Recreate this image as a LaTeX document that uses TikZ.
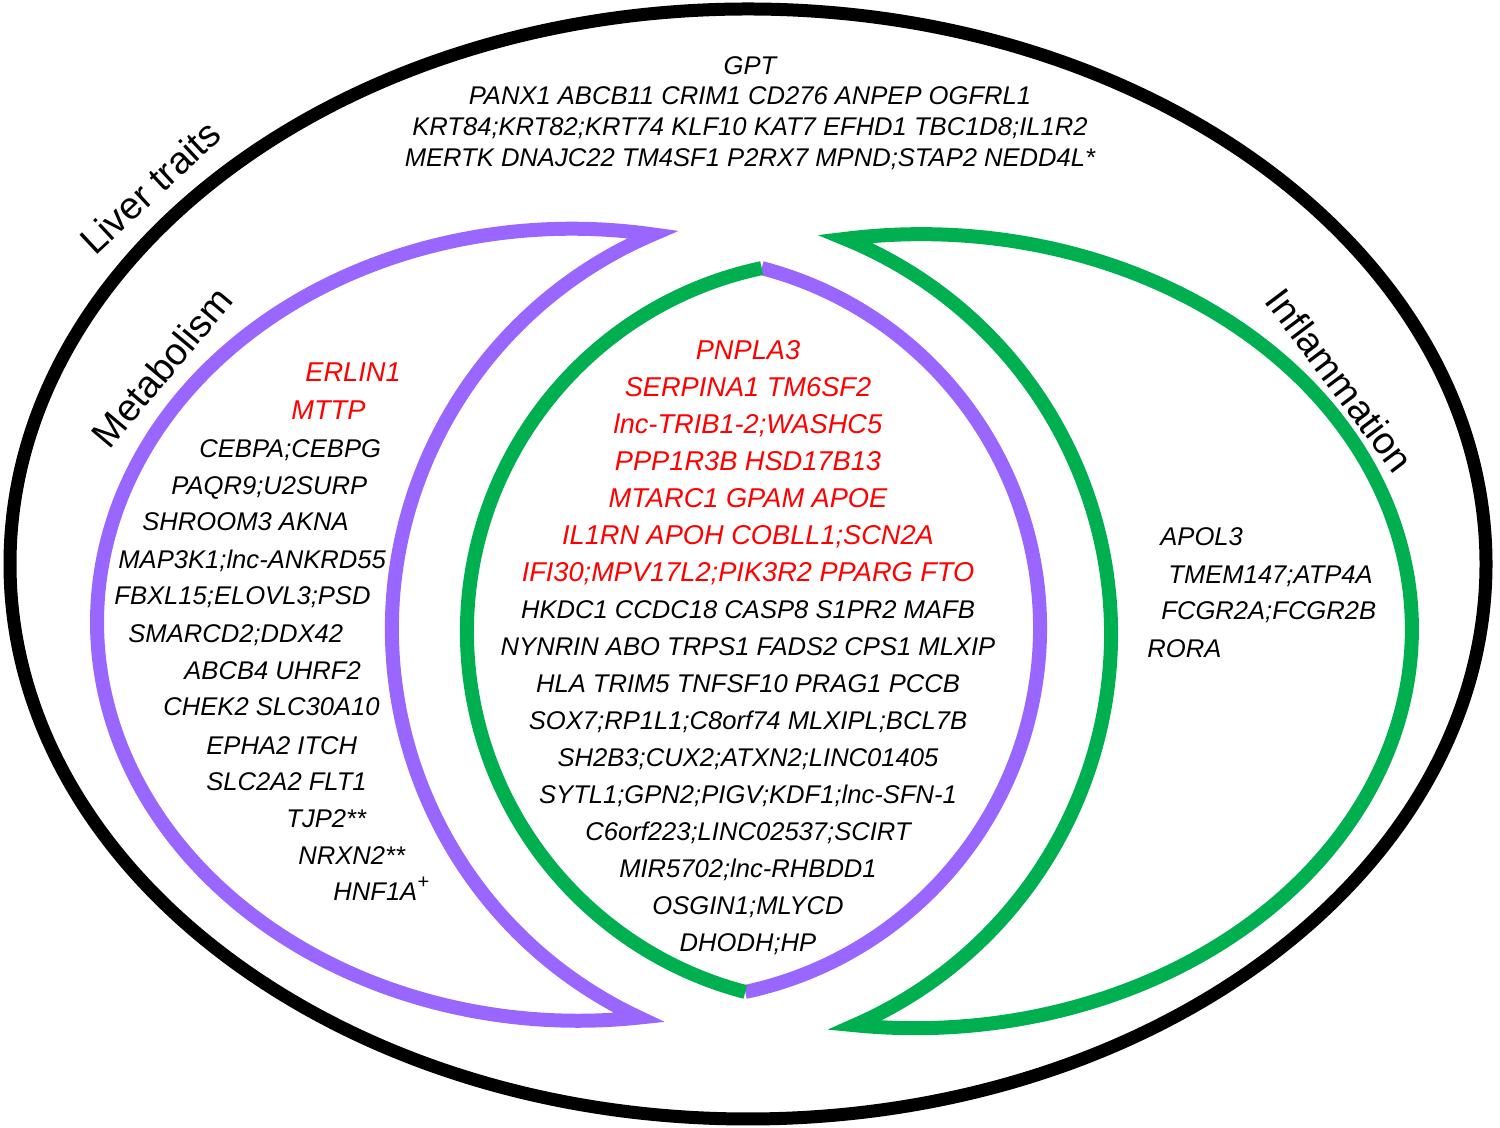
\documentclass[tikz,border=0pt]{standalone}
\usepackage{fontspec}
\setmainfont{Liberation Sans}
\usepackage{tikz}
\usetikzlibrary{calc}

\definecolor{metab}{HTML}{9966FF}
\definecolor{inflam}{HTML}{00B050}

% Red genes are set a little larger
\newcommand{\hitgene}[1]{\textcolor{red}{\fontsize{13.6}{18.5}\selectfont #1}}

\begin{document}
\begin{tikzpicture}[x=0.5pt, y=0.5pt]

        \pgfmathsetmacro{\ring}{7}

        % Fonts of the gene lists and of the three set names
        \tikzset{
            gene/.style={font=\fontsize{12.8}{18.5}\selectfont\itshape, inner sep=0pt},
            hit/.style={gene, text=red, font=\fontsize{13.6}{18.5}\selectfont\itshape},
            title/.style={font=\fontsize{19}{22}\selectfont, inner sep=0pt}
        }

        \useasboundingbox (0, 0) rectangle (1500, 1128);

        % Outer ellipse that holds every liver trait
        \draw[line width=6.5pt] (748, 564) ellipse [x radius=738, y radius=555];

        % Metabolism crescent: outer ellipse arc, inner circle arc,
        % begun and ended on the left so both tips get a sharp join
        \begin{scope}[rotate around={-1:(646, 502)}, line width=\ring pt, draw=metab]
            \coordinate (MC) at (575, 502);
            \draw ($(MC) + (170:478 and 396)$)
                arc [start angle=170, end angle=278.54, x radius=478, y radius=396]
                arc [start angle=245.93, end angle=114.07, radius=428.9]
                arc [start angle=81.46, end angle=190, x radius=478, y radius=396];
        \end{scope}

        % Inflammation crescent, mirrored
        \begin{scope}[rotate around={0.7:(850, 496)}, line width=\ring pt, draw=inflam]
            \coordinate (IC) at (918, 496);
            \draw ($(IC) + (10:494 and 397)$)
                arc [start angle=10, end angle=-97.91, x radius=494, y radius=397]
                arc [start angle=-67.15, end angle=67.15, radius=426.7]
                arc [start angle=97.91, end angle=-20, x radius=494, y radius=397];
        \end{scope}

        % Lens in the middle: purple half first, green half on top
        \begin{scope}[rotate around={-1.3:(753.5, 498)}, line width=\ring pt]
            \coordinate (LT) at (753.5, 860);
            \draw[metab] (LT) arc [start angle=76.71, end angle=-76.71, radius=372];
            \draw[inflam] (LT) arc [start angle=103.29, end angle=256.71, radius=372];
        \end{scope}

        % Set names
        \node[title, rotate=43] (liver) at (150, 941) {Liver traits};
        \node[title, rotate=50] (metab) at (162, 761) {Metabolism};
        \node[title, rotate=-53] (inflam) at (1340, 748) {Inflammation};

        % Liver traits only
        \node[gene, align=center, anchor=north,
            font=\fontsize{12.8}{15.35}\selectfont\itshape] (liveronly) at (750, 1072)
            {GPT\\
             PANX1 ABCB11 CRIM1 CD276 ANPEP OGFRL1\\
             KRT84;KRT82;KRT74 KLF10 KAT7 EFHD1 TBC1D8;IL1R2\\
             MERTK DNAJC22 TM4SF1 P2RX7 MPND;STAP2 NEDD4L*};

        % Metabolism and inflammation
        \node[gene, align=center, anchor=north] (shared) at (748, 787.5)
            {\hitgene{PNPLA3}\\
             \hitgene{SERPINA1 TM6SF2}\\
             \hitgene{lnc-TRIB1-2;WASHC5}\\
             \hitgene{PPP1R3B HSD17B13}\\
             \hitgene{MTARC1 GPAM APOE}\\
             \hitgene{IL1RN APOH COBLL1;SCN2A}\\
             \hitgene{IFI30;MPV17L2;PIK3R2 PPARG FTO}\\
             HKDC1 CCDC18 CASP8 S1PR2 MAFB\\
             NYNRIN ABO TRPS1 FADS2 CPS1 MLXIP\\
             HLA TRIM5 TNFSF10 PRAG1 PCCB\\
             SOX7;RP1L1;C8orf74 MLXIPL;BCL7B\\
             SH2B3;CUX2;ATXN2;LINC01405\\
             SYTL1;GPN2;PIGV;KDF1;lnc-SFN-1\\
             C6orf223;LINC02537;SCIRT\\
             MIR5702;lnc-RHBDD1\\
             OSGIN1;MLYCD\\
             DHODH;HP};

        % Metabolism only
        \node[hit, anchor=base west] (m1) at (305, 746) {ERLIN1};
        \node[hit, anchor=base west] (m2) at (291, 708) {MTTP};
        \node[gene, anchor=base west] (m3) at (199, 670) {CEBPA;CEBPG};
        \node[gene, anchor=base west] (m4) at (171, 633) {PAQR9;U2SURP};
        \node[gene, anchor=base west] (m5) at (142, 597) {SHROOM3 AKNA};
        \node[gene, anchor=base west] (m6) at (118, 559) {MAP3K1;lnc-ANKRD55};
        \node[gene, anchor=base west] (m7) at (114, 523) {FBXL15;ELOVL3;PSD};
        \node[gene, anchor=base west] (m8) at (128, 485) {SMARCD2;DDX42};
        \node[gene, anchor=base west] (m9) at (184, 448) {ABCB4 UHRF2};
        \node[gene, anchor=base west] (m10) at (163, 412) {CHEK2 SLC30A10};
        \node[gene, anchor=base west] (m11) at (206, 373) {EPHA2 ITCH};
        \node[gene, anchor=base west] (m12) at (206, 337) {SLC2A2 FLT1};
        \node[gene, anchor=base west] (m13) at (286, 300) {TJP2**};
        \node[gene, anchor=base west] (m14) at (298, 263) {NRXN2**};
        \node[gene, anchor=base west] (m15) at (333, 227)
            {HNF1A\raisebox{0.5em}{\fontsize{10}{10}\selectfont +}};

        % Inflammation only
        \node[gene, anchor=base west] (i1) at (1160, 582) {APOL3};
        \node[gene, anchor=base west] (i2) at (1168, 544) {TMEM147;ATP4A};
        \node[gene, anchor=base west] (i3) at (1161, 508) {FCGR2A;FCGR2B};
        \node[gene, anchor=base west] (i4) at (1147, 470) {RORA};

\end{tikzpicture}
\end{document}
